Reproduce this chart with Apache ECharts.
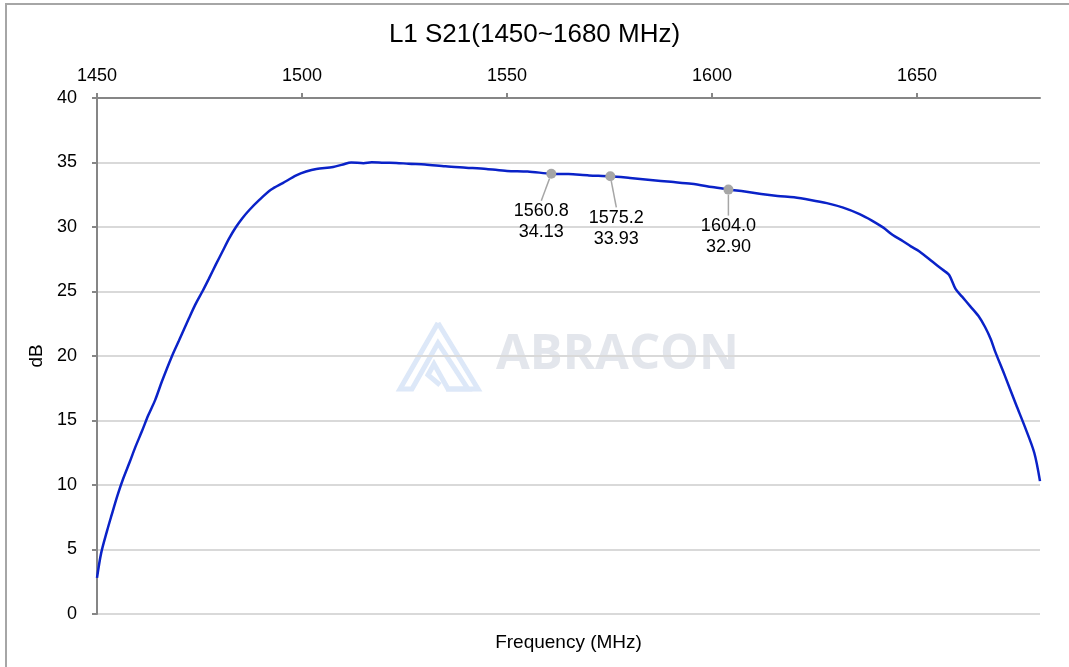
<!DOCTYPE html>
<html>
<head>
<meta charset="utf-8">
<script src="https://cdn.jsdelivr.net/npm/echarts@6/dist/echarts.min.js"></script>
<style>
 html,body{margin:0;padding:0;background:#fff;}
 #chart{width:1069px;height:667px;}
</style>
</head>
<body>
<div id="chart"></div>
<script>
// 频率 (MHz) 与 S21 (dB)
var freq = [1450,1451,1452.5,1453.5,1455,1456.4,1458,1459.3,1461,1462.5,1464.2,1465.8,1468.3,1470,1472.4,1474,1475.7,1477.3,1479,1480.6,1482.2,1483.9,1485.5,1487.1,1489.6,1492.5,1495.3,1498.6,1501,1503.5,1507.6,1510,1512,1515,1517,1520,1523,1526,1530,1535,1540,1545,1550,1555,1560.8,1565,1570,1575.2,1580,1585,1590,1595,1600,1604,1608,1612,1616,1620,1624,1628,1632,1636,1639,1641.8,1644,1646.6,1648.5,1650.6,1653.8,1656.2,1657.8,1659.4,1661,1663,1665,1666.6,1668,1669,1671.4,1674.2,1676.2,1678.6,1680];
var s21 = [2.8,4.7,6.5,7.6,9.2,10.5,11.8,12.9,14.2,15.4,16.6,18.0,20.0,21.2,22.9,24.0,25.0,26.0,27.1,28.1,29.1,30.0,30.7,31.3,32.1,32.9,33.4,34.0,34.3,34.5,34.65,34.85,35.0,34.95,35.02,34.98,34.97,34.9,34.85,34.7,34.6,34.5,34.35,34.3,34.13,34.1,34.0,33.93,33.8,33.65,33.5,33.35,33.1,32.9,32.75,32.55,32.4,32.3,32.1,31.85,31.5,31.0,30.5,29.95,29.4,28.9,28.5,28.1,27.3,26.7,26.3,25.2,24.6,23.85,23.1,22.25,21.3,20.4,18.5,16.2,14.6,12.5,10.3];
// 标记点
var markFreq = [1560.8, 1575.2, 1604.0];
var markVal = [34.13, 33.93, 32.90];
var markShift = [[-10, 19], [6, 23], [0, 18]];

var fontFam = 'Liberation Sans, Arial, sans-serif';
var myChart = echarts.init(document.getElementById('chart'));

var lineData = freq.map(function (f, i) { return [f, s21[i]]; });
var markData = markFreq.map(function (f, i) {
  return { value: [f, markVal[i]] };
});

var option = {
  animation: false,
  backgroundColor: '#fff',
  title: {
    text: 'L1 S21(1450~1680 MHz)',
    left: 'center',
    top: 17,
    textStyle: { fontFamily: fontFam, fontSize: 26, fontWeight: 'normal', color: '#000' }
  },
  grid: { left: 97, right: 29, top: 98, bottom: 53 },
  xAxis: [{
    type: 'value',
    position: 'top',
    min: 1450, max: 1680, interval: 50,
    axisLine: { show: true, onZero: false, lineStyle: { color: '#868686', width: 2 } },
    axisTick: { show: true, length: 5, lineStyle: { color: '#868686', width: 2 } },
    axisLabel: {
      fontFamily: fontFam, fontSize: 18, color: '#000', margin: 13,
      showMaxLabel: false,
      formatter: function (v) { return String(v); }
    },
    splitLine: { show: false }
  }, {
    type: 'value',
    position: 'bottom',
    min: 1450, max: 1680,
    name: 'Frequency (MHz)',
    nameLocation: 'middle',
    nameGap: 19,
    nameTextStyle: { fontFamily: fontFam, fontSize: 19, color: '#000' },
    axisLine: { show: false, onZero: false },
    axisTick: { show: false },
    axisLabel: { show: false },
    splitLine: { show: false }
  }],
  yAxis: {
    type: 'value',
    min: 0, max: 40, interval: 5,
    name: 'dB',
    nameLocation: 'middle',
    nameGap: 47,
    nameTextStyle: { fontFamily: fontFam, fontSize: 19, color: '#000' },
    axisLine: { show: true, onZero: false, lineStyle: { color: '#868686', width: 2 } },
    axisTick: { show: true, length: 5, lineStyle: { color: '#868686', width: 2 } },
    axisLabel: { fontFamily: fontFam, fontSize: 18, color: '#000', margin: 20 },
    splitLine: { show: true, lineStyle: { color: '#d9d9d9', width: 2 } }
  },
  graphic: [
    {
      type: 'rect', silent: true, z: -1,
      shape: { x: 6, y: 4, width: 1100, height: 700 },
      style: { fill: 'none', stroke: '#a6a6a6', lineWidth: 2 }
    },
    {
      type: 'polyline', silent: true, z: 0,
      shape: { points: [[438, 323], [400, 389], [412, 389], [438, 343], [468, 389], [448, 389], [434, 364], [428, 375], [440, 385]] },
      style: { fill: 'none', stroke: '#dde8f8', lineWidth: 5, lineJoin: 'miter' }
    },
    {
      type: 'polyline', silent: true, z: 0,
      shape: { points: [[438, 323], [478, 389], [446, 389]] },
      style: { fill: 'none', stroke: '#dde8f8', lineWidth: 5 }
    },
    {
      type: 'text', silent: true, z: 0,
      left: 496, top: 331,
      style: { text: 'ABRACON', font: 'bold 49px "Open Sans", sans-serif', fill: '#e3e6ec' }
    }
  ],
  series: [{
    type: 'line',
    data: lineData,
    showSymbol: false,
    smooth: 0.3,
    lineStyle: { color: '#0a22c8', width: 2.5 },
    z: 3
  }, {
    type: 'scatter',
    data: markData,
    symbolSize: 10,
    itemStyle: { color: '#a6a6a6', opacity: 1 },
    z: 4,
    label: {
      show: true,
      position: 'bottom',
      distance: 3,
      fontFamily: fontFam,
      fontSize: 18,
      lineHeight: 21,
      color: '#000',
      formatter: function (p) {
        return p.value[0].toFixed(1) + '\n' + p.value[1].toFixed(2);
      }
    },
    labelLine: { show: true, lineStyle: { color: '#a6a6a6', width: 1.5 } },
    labelLayout: function (p) {
      var s = markShift[p.dataIndex];
      return { dx: s[0], dy: s[1] };
    }
  }]
};
myChart.setOption(option);
</script>
</body>
</html>
